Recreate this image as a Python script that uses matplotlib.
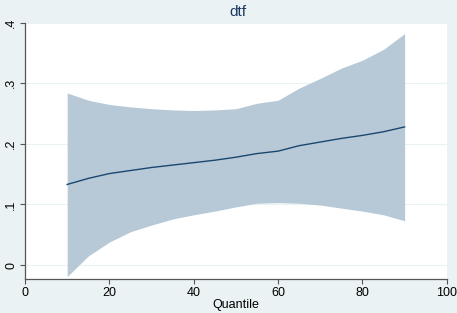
import matplotlib.pyplot as plt
from matplotlib.ticker import FuncFormatter

plt.rcParams['font.family'] = ['Liberation Sans', 'DejaVu Sans']

# данные
quantile = [10, 15, 20, 25, 30, 35, 40, 45, 50, 55, 60, 65, 70, 75, 80, 85, 90]
coef = [0.133, 0.143, 0.151, 0.156, 0.161, 0.165, 0.169, 0.173, 0.178,
        0.184, 0.188, 0.197, 0.203, 0.209, 0.214, 0.220, 0.228]
upper = [0.284, 0.272, 0.265, 0.261, 0.258, 0.256, 0.255, 0.256, 0.258,
         0.267, 0.272, 0.292, 0.308, 0.325, 0.338, 0.356, 0.382]
lower = [-0.019, 0.015, 0.038, 0.055, 0.066, 0.076, 0.083, 0.089, 0.096,
         0.102, 0.103, 0.102, 0.099, 0.094, 0.089, 0.083, 0.073]
x_ticks = [0, 20, 40, 60, 80, 100]
y_ticks = [0, 0.1, 0.2, 0.3, 0.4]

bg = '#eaf2f3'
fig = plt.figure(figsize=(4.57, 3.13), dpi=100, facecolor=bg)
ax = fig.add_axes([0.0547, 0.1086, 0.923, 0.819])

ax.fill_between(quantile, lower, upper, color='#b7c9d6', linewidth=0)
ax.plot(quantile, coef, color='#1a476f', linewidth=1.0)

ax.set_xlim(0, 100)
ax.set_ylim(-0.023, 0.4)
ax.set_xticks(x_ticks)
ax.set_yticks(y_ticks)
ax.yaxis.set_major_formatter(FuncFormatter(
    lambda v, p: '0' if v == 0 else ('%.1f' % v).lstrip('0')))
for lab in ax.get_yticklabels():
    lab.set_rotation(90)
    lab.set_va('center')
ax.tick_params(labelsize=9, length=3.5, width=0.8, color='#555555', pad=2)
ax.grid(axis='y', color=bg, linewidth=0.8)
ax.set_axisbelow(True)
for s in ['top', 'right']:
    ax.spines[s].set_visible(False)
for s in ['left', 'bottom']:
    ax.spines[s].set_color('#555555')
    ax.spines[s].set_linewidth(0.9)

ax.set_xlabel('Quantile', fontsize=9, labelpad=0)
fig.text(0.52, 0.962, 'dtf', ha='center', va='center', fontsize=11, color='#1e3a5f')

fig.savefig('out.png', dpi=100, facecolor=bg)
